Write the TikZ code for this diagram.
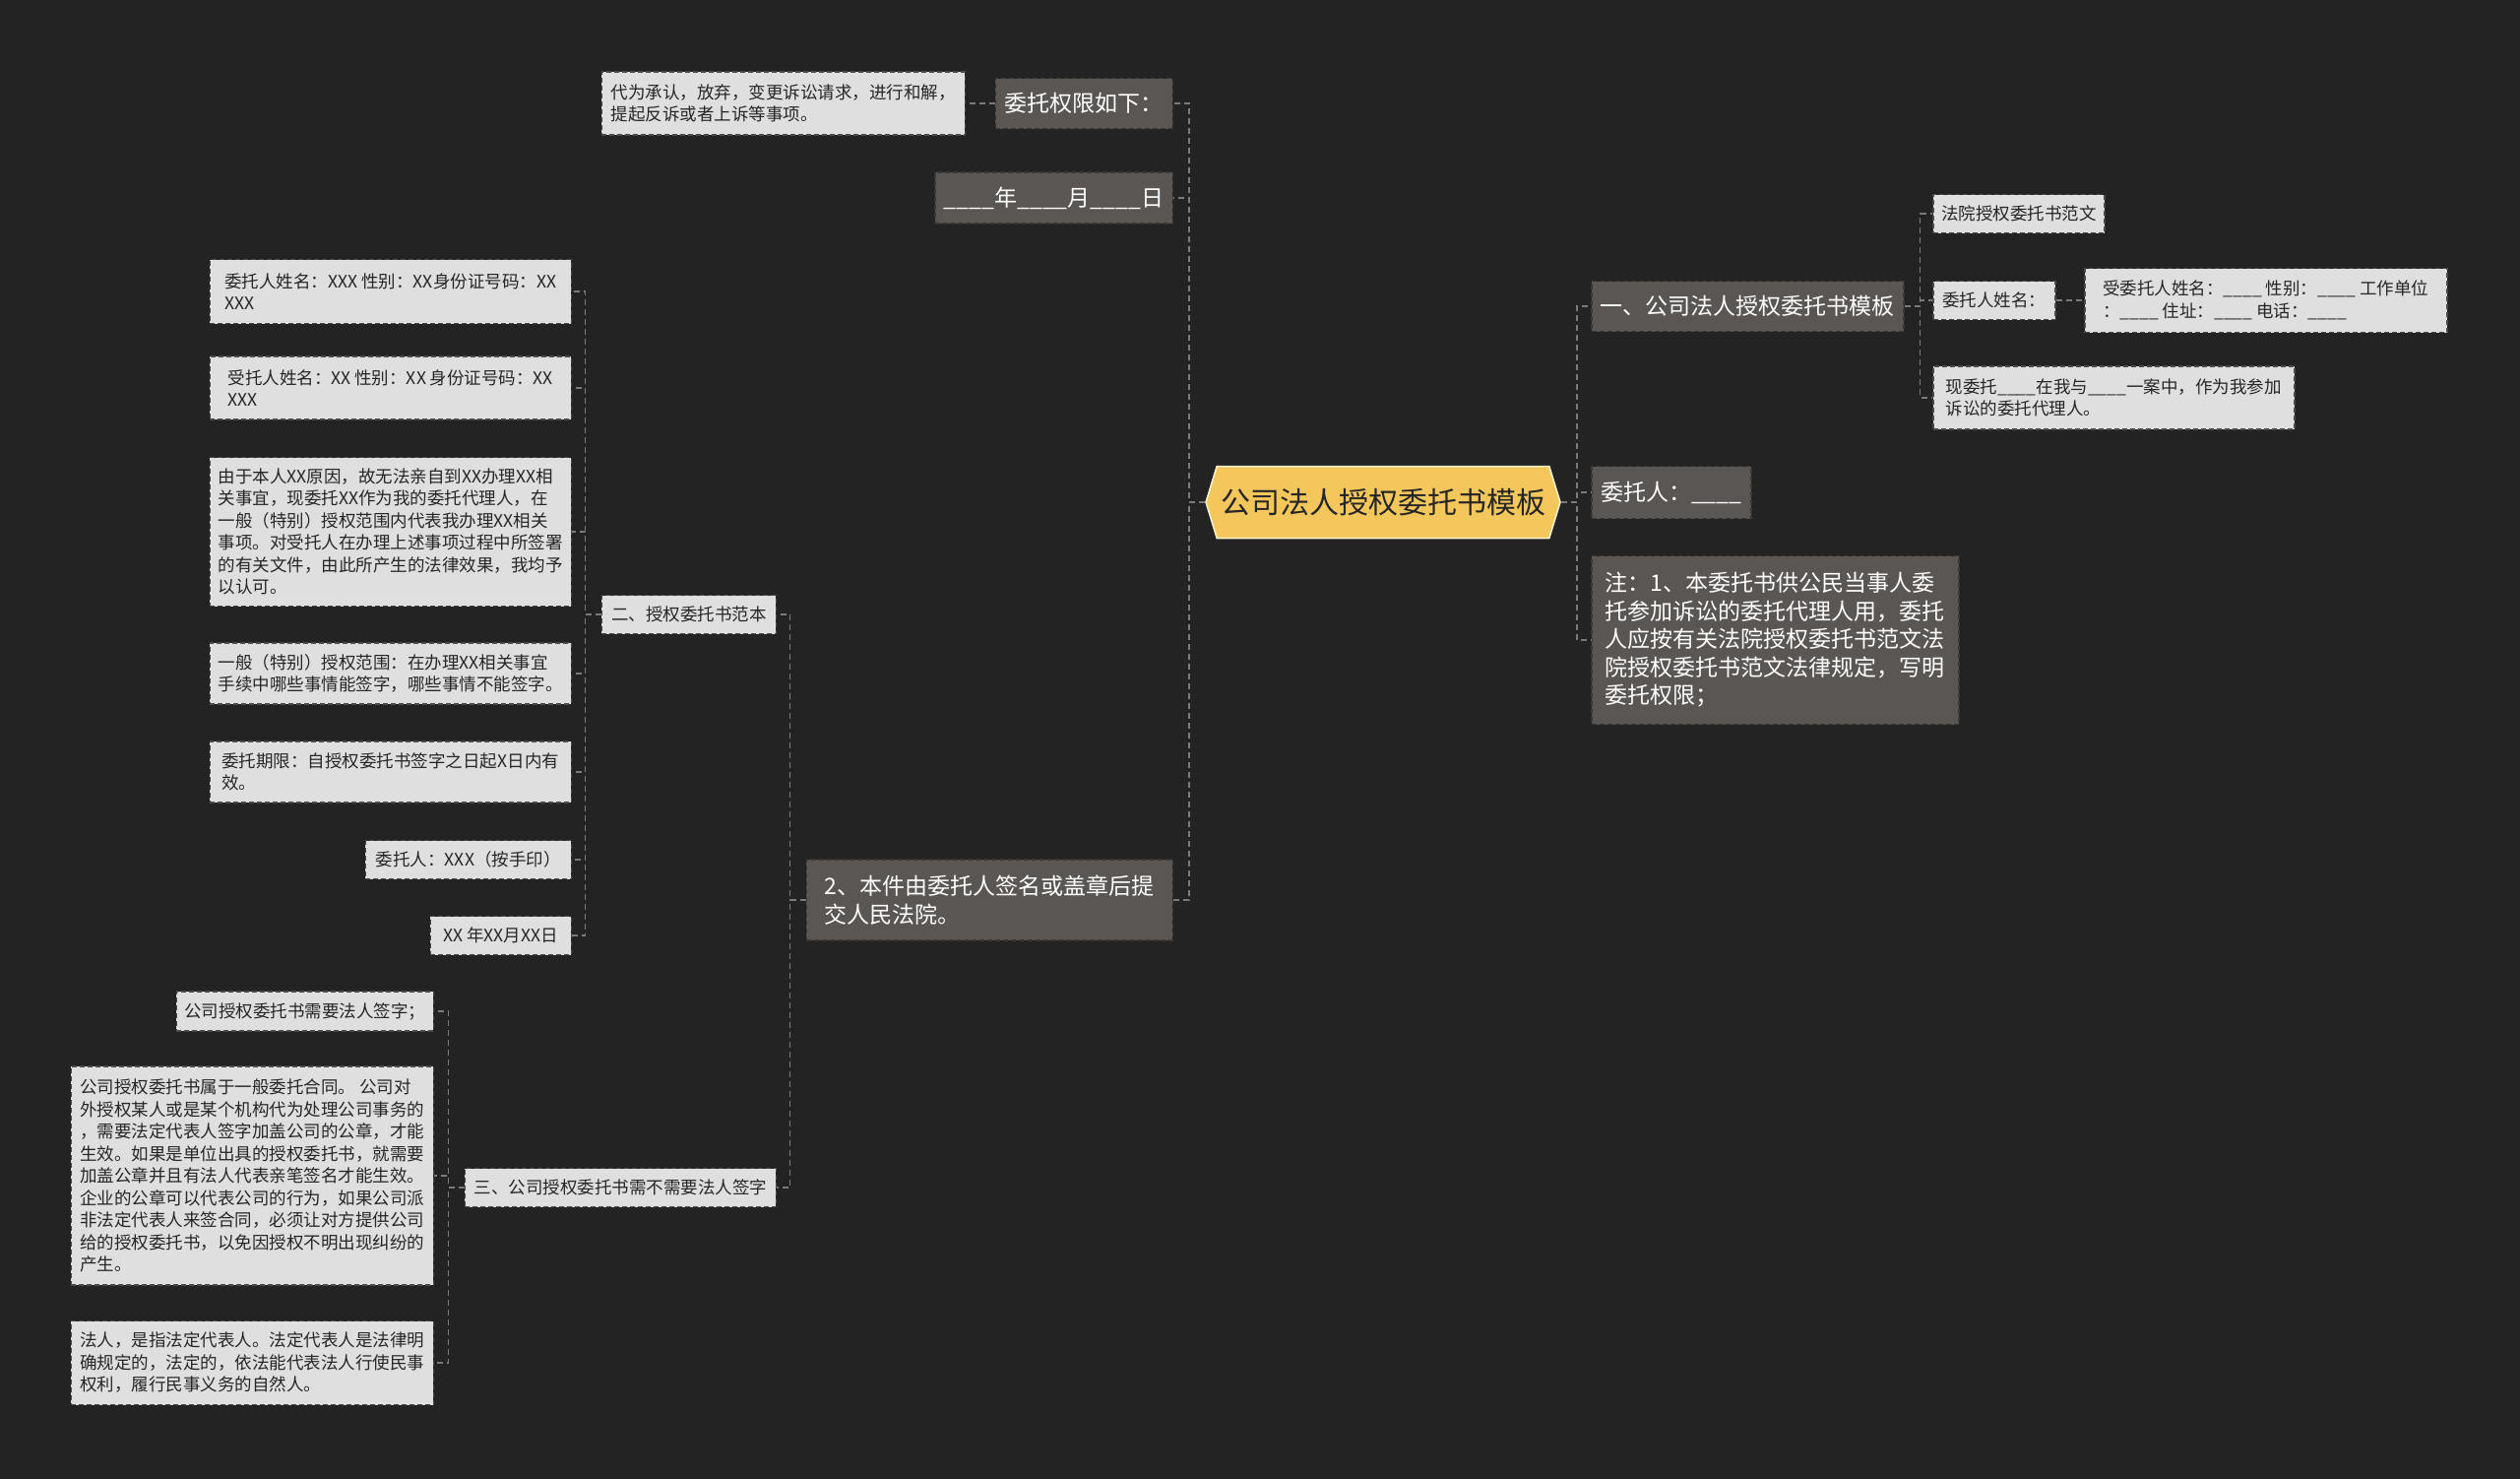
\documentclass[tikz,border=0pt]{standalone}
\usepackage{fontspec}
\setmainfont{Noto Sans CJK SC}
\usetikzlibrary{shapes.symbols}

\definecolor{bgcol}{HTML}{232323}
\definecolor{topicfill}{HTML}{F4C75C}
\definecolor{topicline}{HTML}{FFF4D2}
\definecolor{darkfill}{HTML}{5A5654}
\definecolor{darkline}{HTML}{3A3837}
\definecolor{lightfill}{HTML}{DFDFDF}
\definecolor{lightline}{HTML}{4A4A4A}
\definecolor{textdark}{HTML}{262626}
\definecolor{linkcol}{HTML}{7A7A7A}

\begin{document}
\begin{tikzpicture}[x=1pt,y=-1pt]
\tikzstyle{topic}=[signal, signal to=west and east, signal pointer angle=146, fill=topicfill, draw=topicline, line width=1.5pt, minimum width=360pt, minimum height=73pt, text=textdark, font=\fontsize{30pt}{36pt}\selectfont]
\tikzstyle{dark}=[rectangle, fill=darkfill, draw=darkline, dash pattern=on 5pt off 3pt, line width=1.5pt, text=white, align=left, font=\fontsize{23pt}{28.5pt}\selectfont, inner xsep=9pt]
\tikzstyle{light}=[rectangle, fill=lightfill, draw=lightline, dash pattern=on 5pt off 3pt, line width=1.5pt, text=textdark, align=left, font=\fontsize{17.5pt}{22.5pt}\selectfont, inner xsep=8pt]
\tikzstyle{link}=[draw=linkcol, line width=1.5pt, dash pattern=on 6pt off 4pt]
\tikzstyle{elbowl}=[link, to path={-- ++(-16,0) |- (\tikztotarget)}]
\tikzstyle{elbowr}=[link, to path={-- ++(16,0) |- (\tikztotarget)}]

\useasboundingbox (0,0) rectangle (2560,1502);
\fill[bgcol] (0,0) rectangle (2560,1502);

% 1. Central topic
%%%%%%%%%%%%%%%%%%
\node[topic] (main) at (1405,510) {公司法人授权委托书模板};

% 2. Right branches
%%%%%%%%%%%%%%%%%%%
\node[dark, anchor=west, minimum width=316pt, minimum height=51pt] (tpl) at (1616,311) {一、公司法人授权委托书模板};
\node[dark, anchor=west, minimum width=162pt, minimum height=53pt] (principal) at (1616,500) {委托人：\_\_\_\_};
\node[dark, anchor=west, minimum width=373pt, minimum height=171pt] (note) at (1616,650) {注：1、本委托书供公民当事人委\\托参加诉讼的委托代理人用，委托\\人应按有关法院授权委托书范文法\\院授权委托书范文法律规定，写明\\委托权限；};

\node[light, anchor=west, minimum width=174pt, minimum height=39pt] (court) at (1963,217) {法院授权委托书范文};
\node[light, anchor=west, minimum width=124pt, minimum height=39pt] (pname) at (1963,305) {委托人姓名：};
\node[light, anchor=west, minimum width=368pt, minimum height=65pt] (aname) at (2117,305) {受委托人姓名：\_\_\_\_ 性别：\_\_\_\_ 工作单位\\：\_\_\_\_ 住址：\_\_\_\_ 电话：\_\_\_\_};
\node[light, anchor=west, minimum width=367pt, minimum height=64pt] (case) at (1963,404) {现委托\_\_\_\_在我与\_\_\_\_一案中，作为我参加\\诉讼的委托代理人。};

% 3. Left branches
%%%%%%%%%%%%%%%%%%
\node[dark, anchor=east, minimum width=180pt, minimum height=51pt] (scope) at (1192,105) {委托权限如下：};
\node[light, anchor=east, minimum width=369pt, minimum height=64pt] (scopetxt) at (981,105) {代为承认，放弃，变更诉讼请求，进行和解，\\提起反诉或者上诉等事项。};
\node[dark, anchor=east, minimum width=240pt, minimum height=52pt] (date) at (1192,201) {\_\_\_\_年\_\_\_\_月\_\_\_\_日};
\node[dark, anchor=east, minimum width=372pt, minimum height=82pt] (submit) at (1192,914) {2、本件由委托人签名或盖章后提\\交人民法院。};

\node[light, anchor=east, minimum width=177pt, minimum height=39pt] (sample) at (789,624) {二、授权委托书范本};
\node[light, anchor=east, minimum width=316pt, minimum height=39pt] (sign) at (789,1206) {三、公司授权委托书需不需要法人签字};

\node[light, anchor=east, minimum width=367pt, minimum height=65pt] (ptext) at (581,296) {委托人姓名：XXX 性别：XX身份证号码：XX\\XXX};
\node[light, anchor=east, minimum width=367pt, minimum height=64pt] (atext) at (581,394) {受托人姓名：XX 性别：XX 身份证号码：XX\\XXX};
\node[light, anchor=east, minimum width=367pt, minimum height=151pt] (reason) at (581,540) {由于本人XX原因，故无法亲自到XX办理XX相\\关事宜，现委托XX作为我的委托代理人，在\\一般（特别）授权范围内代表我办理XX相关\\事项。对受托人在办理上述事项过程中所签署\\的有关文件，由此所产生的法律效果，我均予\\以认可。};
\node[light, anchor=east, minimum width=367pt, minimum height=62pt] (range) at (581,684) {一般（特别）授权范围：在办理XX相关事宜\\手续中哪些事情能签字，哪些事情不能签字。};
\node[light, anchor=east, minimum width=367pt, minimum height=62pt] (term) at (581,784) {委托期限：自授权委托书签字之日起X日内有\\效。};
\node[light, anchor=east, minimum width=209pt, minimum height=39pt] (seal) at (581,873) {委托人：XXX（按手印）};
\node[light, anchor=east, minimum width=143pt, minimum height=39pt] (sdate) at (581,950) {XX 年XX月XX日};

\node[light, anchor=east, minimum width=261pt, minimum height=40pt] (needsign) at (441,1027) {公司授权委托书需要法人签字；};
\node[light, anchor=east, minimum width=368pt, minimum height=222pt] (contract) at (441,1194) {公司授权委托书属于一般委托合同。 公司对\\外授权某人或是某个机构代为处理公司事务的\\，需要法定代表人签字加盖公司的公章，才能\\生效。如果是单位出具的授权委托书，就需要\\加盖公章并且有法人代表亲笔签名才能生效。\\企业的公章可以代表公司的行为，如果公司派\\非法定代表人来签合同，必须让对方提供公司\\给的授权委托书，以免因授权不明出现纠纷的\\产生。};
\node[light, anchor=east, minimum width=368pt, minimum height=85pt] (legal) at (441,1384) {法人，是指法定代表人。法定代表人是法律明\\确规定的，法定的，依法能代表法人行使民事\\权利，履行民事义务的自然人。};

% 4. Connectors
%%%%%%%%%%%%%%%
\path (main.east) edge [elbowr] (tpl.west)
                  edge [elbowr] (principal.west)
                  edge [elbowr] (note.west);
\path (tpl.east)  edge [elbowr] (court.west)
                  edge [elbowr] (pname.west)
                  edge [elbowr] (case.west);
\path (pname.east) edge [link] (aname.west);

\path (main.west) edge [elbowl] (scope.east)
                  edge [elbowl] (date.east)
                  edge [elbowl] (submit.east);
\path (scope.west) edge [link] (scopetxt.east);
\path (submit.west) edge [elbowl] (sample.east)
                    edge [elbowl] (sign.east);
\path (sample.west) edge [elbowl] (ptext.east)
                    edge [elbowl] (atext.east)
                    edge [elbowl] (reason.east)
                    edge [elbowl] (range.east)
                    edge [elbowl] (term.east)
                    edge [elbowl] (seal.east)
                    edge [elbowl] (sdate.east);
\path (sign.west) edge [elbowl] (needsign.east)
                  edge [elbowl] (contract.east)
                  edge [elbowl] (legal.east);

\end{tikzpicture}
\end{document}
